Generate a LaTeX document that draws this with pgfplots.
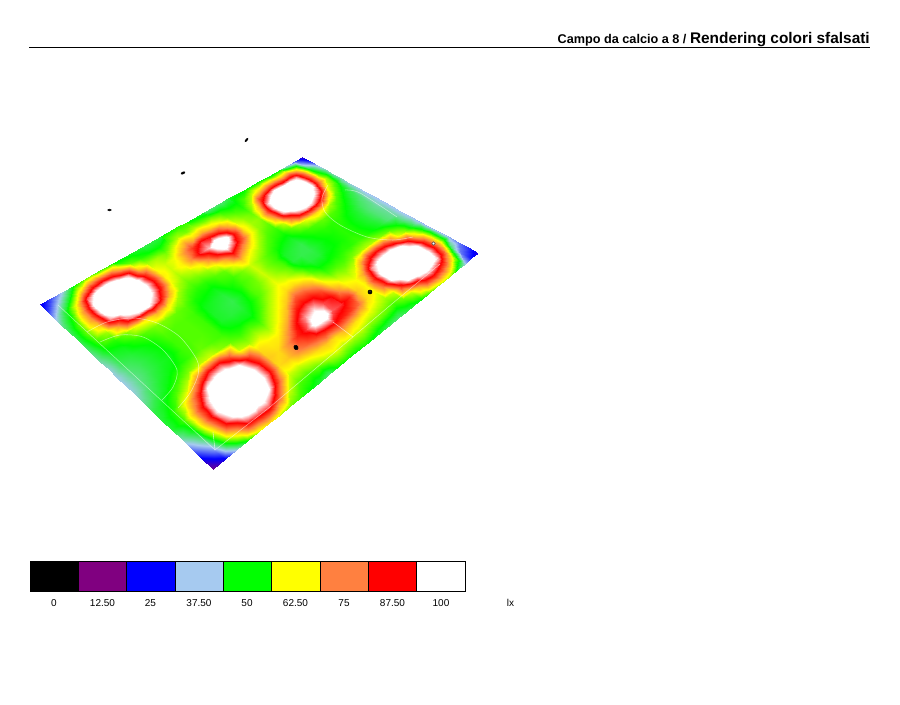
\documentclass[border=0pt]{standalone}
\usepackage{pgfplots}
\pgfplotsset{compat=1.18}
\usepackage{fontspec}
\setmainfont{Liberation Sans}
\definecolor{cA}{RGB}{0,0,0}
\definecolor{cB}{RGB}{128,0,128}
\definecolor{cC}{RGB}{0,0,255}
\definecolor{cD}{RGB}{166,202,240}
\definecolor{cE}{RGB}{0,255,0}
\definecolor{cF}{RGB}{255,255,0}
\definecolor{cG}{RGB}{255,128,64}
\definecolor{cH}{RGB}{255,0,0}
\definecolor{cI}{RGB}{255,255,255}
\begin{document}
\begin{tikzpicture}
\useasboundingbox (0,0) rectangle (675pt,528.75pt);
\begin{axis}[
  at={(0,0)},anchor=south west,
  width=675pt,height=528.75pt,scale only axis,hide axis,clip=false,
  xmin=0,xmax=900,ymin=0,ymax=705,y dir=reverse,
  declare function={
    hd(\u,\v)=-0.19591*\u+0.27794*\v+1;
    hx(\u,\v)=(131.27*\u+345.94*\v+40)/hd(\u,\v);
    hy(\u,\v)=(73.12*\u-103.36*\v+304)/hd(\u,\v);
  },
  colormap={falsi}{rgb255(0)=(0,0,0) rgb255(125)=(128,0,128) rgb255(250)=(0,0,255) rgb255(375)=(166,202,240) rgb255(500)=(0,255,0) rgb255(625)=(255,255,0) rgb255(750)=(255,128,64) rgb255(875)=(255,0,0) rgb255(1000)=(255,255,255) rgb255(1400)=(255,255,255)},
  point meta min=0,point meta max=140,
]
\addplot[surf,shader=interp,mesh/cols=21,mesh/rows=31,point meta=explicit] table[row sep=\\,
  x expr={hx(mod(\coordindex,21)/20,floor(\coordindex/21)/30)},
  y expr={hy(mod(\coordindex,21)/20,floor(\coordindex/21)/30)},
  meta=m]{
m\\
23\\28\\36\\42\\45\\46\\45\\43\\41\\39\\38\\38\\39\\42\\46\\47\\47\\41\\33\\24\\14\\
30\\38\\47\\52\\55\\56\\54\\51\\48\\46\\44\\43\\44\\46\\49\\52\\53\\50\\43\\34\\24\\
38\\48\\63\\74\\74\\68\\58\\52\\49\\47\\46\\46\\47\\49\\54\\63\\72\\72\\64\\55\\38\\
50\\66\\92\\102\\102\\95\\72\\56\\52\\49\\48\\48\\49\\53\\60\\80\\94\\97\\90\\70\\50\\
55\\80\\105\\115\\115\\105\\92\\62\\54\\51\\50\\49\\51\\56\\76\\100\\110\\112\\105\\88\\60\\
57\\84\\108\\122\\125\\114\\98\\64\\56\\54\\53\\53\\53\\59\\88\\107\\120\\123\\113\\92\\66\\
54\\80\\104\\117\\120\\112\\100\\70\\56\\54\\54\\54\\55\\60\\90\\106\\120\\121\\108\\92\\60\\
52\\70\\95\\104\\106\\101\\90\\65\\55\\54\\54\\54\\54\\57\\80\\100\\108\\108\\100\\78\\56\\
50\\55\\67\\84\\88\\84\\70\\58\\54\\53\\53\\53\\53\\55\\60\\82\\90\\90\\78\\60\\53\\
48\\52\\58\\62\\64\\62\\58\\54\\51\\49\\48\\48\\50\\53\\58\\66\\68\\66\\60\\54\\50\\
47\\50\\58\\60\\60\\58\\55\\52\\50\\48\\47\\47\\49\\54\\60\\64\\66\\68\\60\\53\\47\\
46\\50\\56\\62\\64\\60\\56\\52\\49\\47\\46\\47\\49\\53\\58\\64\\74\\74\\62\\55\\44\\
47\\54\\62\\72\\74\\64\\58\\54\\52\\50\\49\\50\\53\\58\\62\\72\\84\\78\\66\\58\\50\\
50\\58\\70\\82\\90\\75\\62\\55\\53\\53\\54\\54\\58\\62\\70\\87\\90\\82\\68\\60\\51\\
52\\56\\66\\90\\97\\88\\72\\62\\56\\55\\56\\58\\62\\68\\85\\95\\104\\86\\66\\58\\50\\
53\\58\\70\\88\\112\\102\\84\\68\\60\\60\\60\\62\\66\\78\\88\\99\\106\\88\\70\\58\\51\\
50\\56\\66\\84\\104\\92\\74\\62\\57\\56\\57\\60\\66\\76\\87\\91\\92\\85\\66\\58\\49\\
47\\55\\62\\72\\84\\78\\64\\58\\54\\53\\54\\56\\62\\70\\80\\88\\90\\82\\64\\56\\47\\
44\\52\\56\\60\\64\\63\\58\\54\\51\\48\\47\\50\\54\\60\\66\\74\\84\\76\\62\\55\\45\\
44\\50\\54\\57\\58\\57\\54\\52\\49\\47\\46\\47\\50\\54\\60\\64\\68\\66\\60\\54\\44\\
46\\50\\52\\55\\57\\55\\53\\51\\48\\46\\46\\47\\50\\54\\58\\62\\63\\62\\58\\52\\46\\
48\\54\\59\\68\\77\\71\\60\\55\\51\\49\\48\\49\\51\\54\\60\\72\\81\\77\\60\\55\\48\\
50\\59\\81\\96\\100\\96\\78\\58\\53\\51\\50\\50\\52\\56\\72\\94\\101\\100\\84\\60\\50\\
50\\66\\92\\108\\113\\105\\90\\62\\54\\52\\51\\51\\52\\58\\84\\103\\113\\111\\100\\72\\54\\
50\\74\\100\\120\\123\\112\\96\\66\\55\\52\\52\\52\\53\\59\\88\\106\\121\\120\\105\\84\\58\\
50\\72\\100\\120\\123\\111\\95\\64\\54\\52\\51\\51\\52\\58\\86\\106\\122\\123\\107\\88\\60\\
48\\68\\100\\112\\112\\101\\84\\58\\53\\50\\49\\49\\50\\56\\78\\101\\113\\115\\104\\84\\58\\
50\\74\\95\\102\\101\\90\\66\\54\\50\\48\\47\\47\\48\\54\\62\\88\\101\\103\\98\\75\\47\\
44\\62\\75\\81\\76\\62\\55\\50\\47\\45\\44\\44\\44\\50\\57\\68\\82\\86\\78\\58\\38\\
30\\38\\48\\54\\58\\54\\49\\46\\44\\43\\42\\42\\42\\43\\47\\54\\60\\62\\44\\32\\26\\
20\\27\\36\\40\\41\\40\\39\\38\\37\\37\\37\\37\\37\\37\\36\\36\\36\\36\\33\\28\\22\\
};
% pitch lines
\addplot[white,opacity=0.55,line width=0.4pt] coordinates {(58,305)(215,450)(270,407)(393,303)(440,264)};
\addplot[white,opacity=0.7,line width=0.4pt] coordinates {(215,450)(213,432)};
\addplot[white,opacity=0.55,line width=0.4pt,smooth] coordinates {(87,332)(107,322)(133,318)(157,323)(180,337)(197,360)(198,375)(190,393)(178,408)};
\addplot[white,opacity=0.55,line width=0.4pt,smooth] coordinates {(100,342)(120,335)(143,337)(163,350)(177,370)(173,387)(162,400)};
\addplot[white,opacity=0.55,line width=0.4pt,smooth] coordinates {(328,185)(322,198)(325,212)(340,225)(367,237)(393,240)(413,237)};
\addplot[white,opacity=0.55,line width=0.4pt,smooth] coordinates {(345,190)(360,193)(397,217)};
\addplot[white,opacity=0.6,line width=0.4pt] coordinates {(333,322)(353,337)};
% luminaires
\addplot[only marks,mark=*,black,mark size=0.8pt,mark options={rotate=0,xscale=1.7,yscale=0.8}] coordinates {(109.5,210)};
\addplot[only marks,mark=*,black,mark size=0.8pt,mark options={rotate=25,xscale=1.9,yscale=0.9}] coordinates {(183,173)};
\addplot[only marks,mark=*,black,mark size=0.8pt,mark options={rotate=50,xscale=2.1,yscale=0.7}] coordinates {(246.5,140)};
\addplot[only marks,mark=*,black,mark size=1.5pt,mark options={rotate=30,yscale=1.2}] coordinates {(296,347.5)};
\addplot[only marks,mark=*,black,mark size=1.5pt] coordinates {(370,292)};
\addplot[only marks,mark=*,mark options={fill=white,draw=black},mark size=0.7pt] coordinates {(370,291.5)};
\addplot[only marks,mark=*,mark options={fill=white,draw=black!70},mark size=1.3pt] coordinates {(433.5,243.5)};
% colour scale
\addplot[fill=cA,draw=black,line width=0.75pt] coordinates {(30,561.5)(78.3,561.5)(78.3,591.5)(30,591.5)} --cycle;
\addplot[fill=cB,draw=black,line width=0.75pt] coordinates {(78.3,561.5)(126.7,561.5)(126.7,591.5)(78.3,591.5)} --cycle;
\addplot[fill=cC,draw=black,line width=0.75pt] coordinates {(126.7,561.5)(175,561.5)(175,591.5)(126.7,591.5)} --cycle;
\addplot[fill=cD,draw=black,line width=0.75pt] coordinates {(175,561.5)(223.3,561.5)(223.3,591.5)(175,591.5)} --cycle;
\addplot[fill=cE,draw=black,line width=0.75pt] coordinates {(223.3,561.5)(271.7,561.5)(271.7,591.5)(223.3,591.5)} --cycle;
\addplot[fill=cF,draw=black,line width=0.75pt] coordinates {(271.7,561.5)(320,561.5)(320,591.5)(271.7,591.5)} --cycle;
\addplot[fill=cG,draw=black,line width=0.75pt] coordinates {(320,561.5)(368.3,561.5)(368.3,591.5)(320,591.5)} --cycle;
\addplot[fill=cH,draw=black,line width=0.75pt] coordinates {(368.3,561.5)(416.7,561.5)(416.7,591.5)(368.3,591.5)} --cycle;
\addplot[fill=cI,draw=black,line width=0.75pt] coordinates {(416.7,561.5)(465,561.5)(465,591.5)(416.7,591.5)} --cycle;
% header rule
\addplot[black,line width=0.75pt] coordinates {(29,47.5)(870,47.5)};
\end{axis}
\begin{scope}[x=0.75pt,y=-0.75pt,yshift=528.75pt,every node/.style={inner sep=0pt,font=\fontsize{7.5pt}{9pt}\selectfont}]
\node at (54,603) {0};
\node at (102.5,603) {12.50};
\node at (150.5,603) {25};
\node at (199,603) {37.50};
\node at (247,603) {50};
\node at (295.5,603) {62.50};
\node at (344,603) {75};
\node at (392.5,603) {87.50};
\node at (441,603) {100};
\node at (510.5,603) {lx};
\node[anchor=base east] at (870,44) {\bfseries\fontsize{9.5pt}{12pt}\selectfont Campo da calcio a 8 / \fontsize{11.55pt}{14pt}\selectfont Rendering colori sfalsati};
\end{scope}
\end{tikzpicture}
\end{document}
